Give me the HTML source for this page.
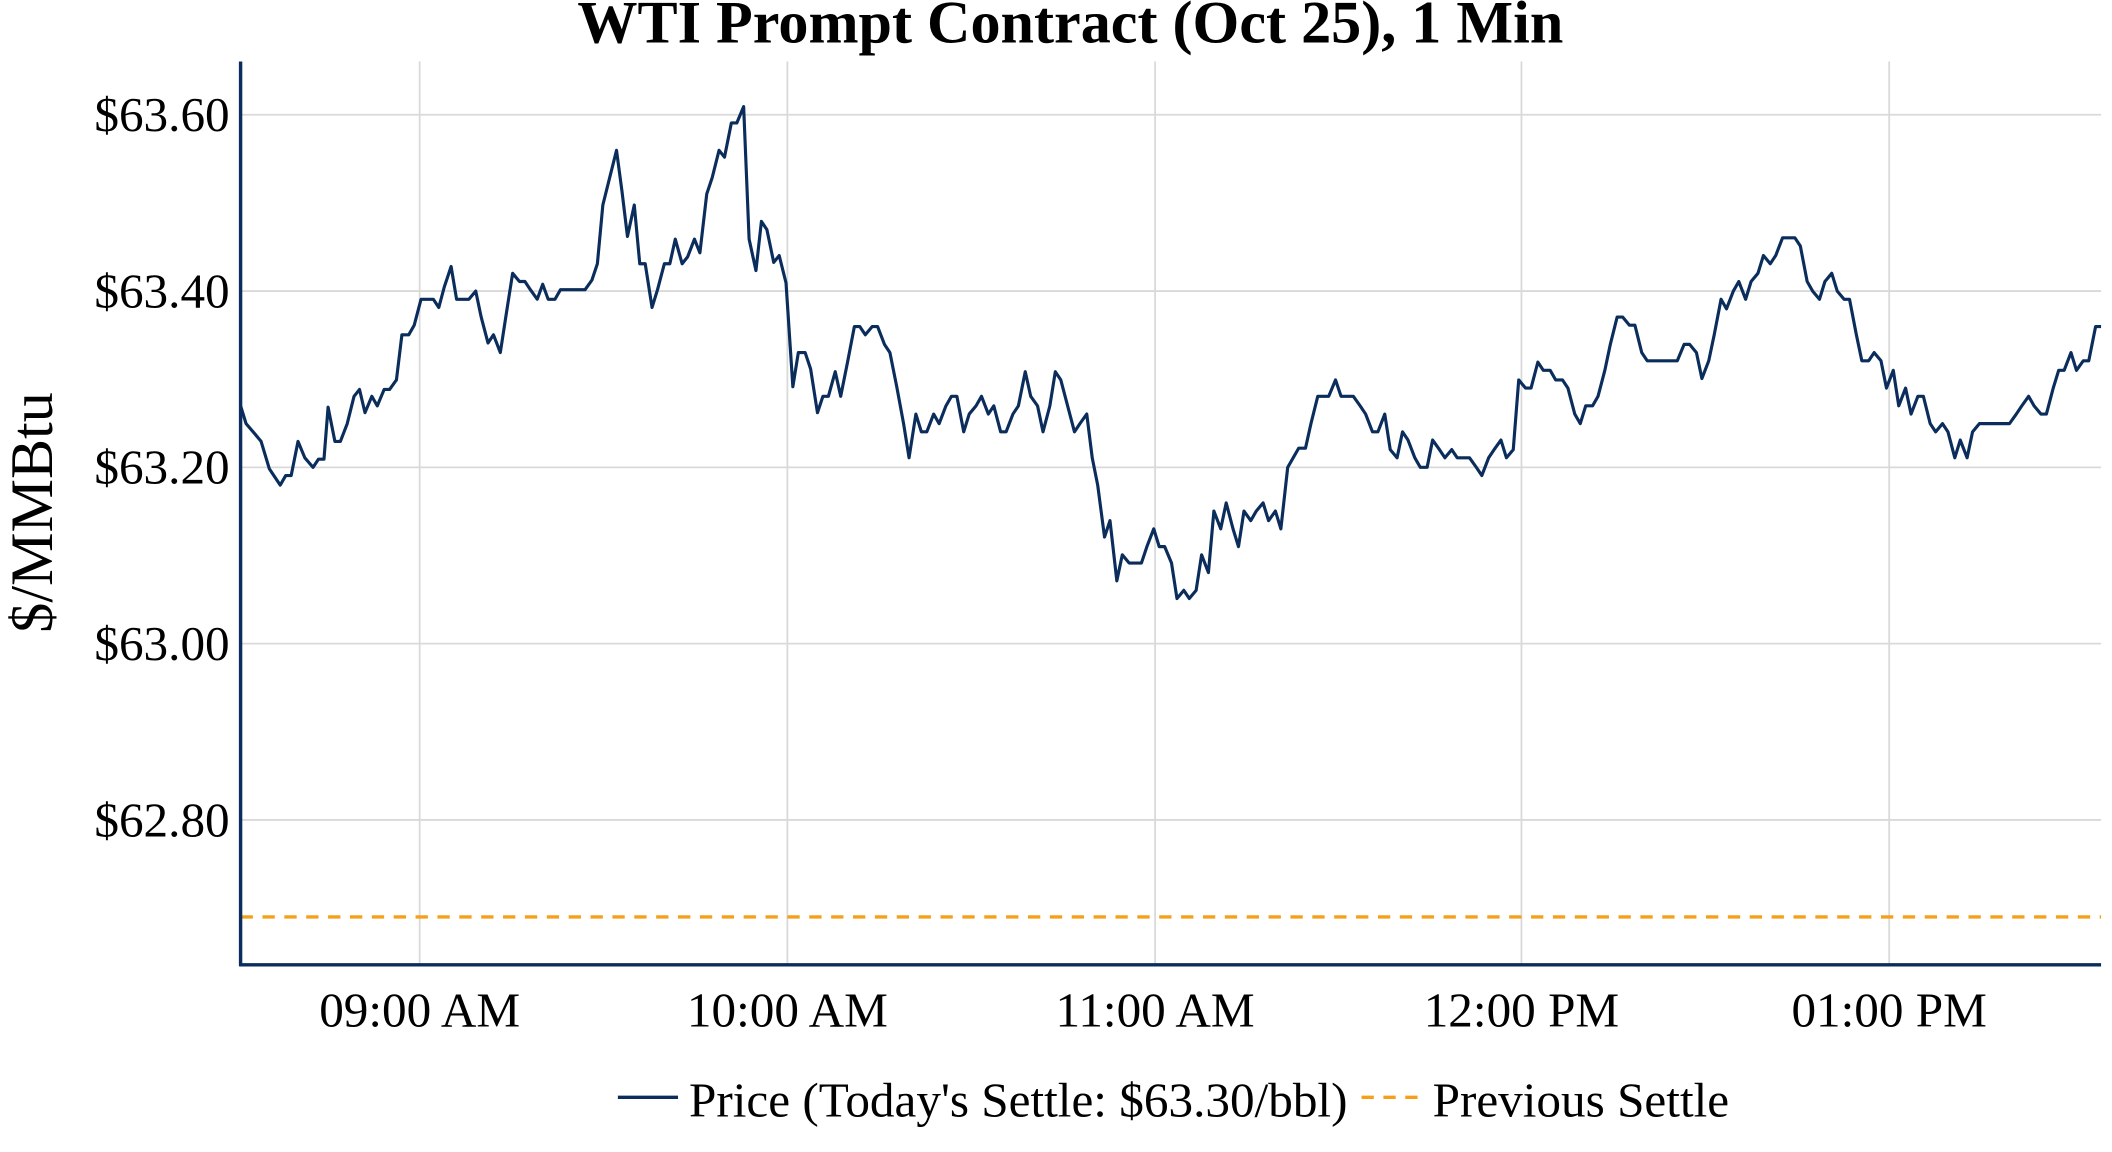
<!DOCTYPE html>
<html><head><meta charset="utf-8"><style>
html,body{margin:0;padding:0;background:#fff;}
svg{display:block;}
text{font-family:"Liberation Serif",serif;fill:#000;}
</style></head><body>
<svg width="2112" height="1152" viewBox="0 0 1545 843" preserveAspectRatio="none" xmlns="http://www.w3.org/2000/svg">
<rect width="1545" height="843" fill="#fff"/>
<g stroke="#d9d9d9" stroke-width="1.3">
<line x1="176" x2="1537" y1="84" y2="84"/>
<line x1="176" x2="1537" y1="213" y2="213"/>
<line x1="176" x2="1537" y1="342" y2="342"/>
<line x1="176" x2="1537" y1="471" y2="471"/>
<line x1="176" x2="1537" y1="600" y2="600"/>
<line x1="307" x2="307" y1="45" y2="706"/>
<line x1="576" x2="576" y1="45" y2="706"/>
<line x1="845" x2="845" y1="45" y2="706"/>
<line x1="1113" x2="1113" y1="45" y2="706"/>
<line x1="1382" x2="1382" y1="45" y2="706"/>
</g>
<line x1="176" x2="1537" y1="671" y2="671" stroke="#f5a01a" stroke-width="2.5" stroke-dasharray="9,7"/>
<polyline fill="none" stroke="#0b2d5c" stroke-width="2.3" stroke-linejoin="round" points="176,297 180,310 186,317 191,323 197,343 205,355 209,348 213,348 218,323 223,335 229,342 233,336 237,336 240,298 245,323 249,323 254,310 259,290 263,285 267,302 272,290 276,297 281,285 285,285 290,278 294,245 299,245 303,238 308,219 312,219 317,219 321,225 325,210 330,195 334,219 339,219 343,219 348,213 352,232 357,251 361,245 366,258 370,232 375,200 380,206 384,206 388,212 393,219 397,208 401,219 406,219 410,212 415,212 419,212 424,212 428,212 433,205 437,193 441,150 446,130 451,110 455,140 459,173 464,150 468,193 472,193 477,225 481,212 486,193 490,193 494,175 499,193 503,188 508,175 512,185 517,142 521,130 526,110 530,115 535,90 539,90 544,78 548,175 553,198 557,162 561,168 566,192 570,187 575,207 580,283 584,258 589,258 593,270 598,302 602,290 606,290 611,272 615,290 620,265 625,239 629,239 633,245 638,239 642,239 647,252 651,258 656,283 661,310 665,335 670,303 674,316 678,316 683,303 687,310 692,297 696,290 700,290 705,316 709,303 714,297 718,290 723,303 727,297 732,316 736,316 741,303 745,297 750,272 754,290 759,297 763,316 768,297 772,272 776,278 781,297 786,316 790,310 795,303 799,335 803,355 808,393 812,381 817,425 821,406 826,412 830,412 835,412 839,400 844,387 848,400 852,400 857,412 861,438 866,432 870,438 875,432 879,406 884,419 888,374 893,387 897,368 902,387 906,400 910,374 915,381 919,374 924,368 928,381 933,374 937,387 942,342 946,335 950,328 955,328 959,310 964,290 968,290 972,290 977,278 981,290 986,290 990,290 995,297 999,303 1004,316 1008,316 1013,303 1017,329 1022,335 1026,316 1030,322 1035,335 1039,342 1044,342 1048,322 1053,329 1057,335 1062,329 1066,335 1071,335 1075,335 1080,342 1084,348 1089,335 1093,329 1098,322 1102,335 1107,329 1111,278 1116,284 1120,284 1125,265 1129,271 1134,271 1138,278 1143,278 1147,284 1152,303 1156,310 1160,297 1165,297 1169,290 1174,271 1178,252 1183,232 1187,232 1192,238 1196,238 1201,258 1205,264 1209,264 1214,264 1218,264 1223,264 1227,264 1232,252 1236,252 1241,258 1245,277 1250,264 1254,245 1259,219 1263,226 1268,213 1272,206 1277,219 1281,206 1286,200 1290,187 1295,193 1299,187 1304,174 1308,174 1313,174 1317,180 1322,206 1326,213 1331,219 1335,206 1340,200 1344,213 1349,219 1353,219 1358,245 1362,264 1367,264 1371,258 1376,264 1380,284 1385,271 1389,297 1394,284 1398,303 1403,290 1407,290 1412,310 1416,316 1421,310 1425,316 1430,335 1434,322 1439,335 1443,316 1448,310 1452,310 1457,310 1461,310 1466,310 1470,310 1475,303 1479,297 1484,290 1488,297 1493,303 1497,303 1502,284 1506,271 1510,271 1515,258 1519,271 1524,264 1528,264 1533,239 1537,239"/>
<line x1="176" x2="176" y1="45" y2="707" stroke="#0b2d5c" stroke-width="2.5"/>
<line x1="175" x2="1537" y1="706" y2="706" stroke="#0b2d5c" stroke-width="2.5"/>
<g font-size="36" text-anchor="end">
<text x="168" y="96">$63.60</text>
<text x="168" y="225">$63.40</text>
<text x="168" y="354">$63.20</text>
<text x="168" y="483">$63.00</text>
<text x="168" y="612">$62.80</text>
</g>
<g font-size="36" text-anchor="middle">
<text x="307" y="751">09:00 AM</text>
<text x="576" y="751">10:00 AM</text>
<text x="845" y="751">11:00 AM</text>
<text x="1113" y="751">12:00 PM</text>
<text x="1382" y="751">01:00 PM</text>
</g>
<text x="783" y="31" font-size="44" font-weight="bold" text-anchor="middle">WTI Prompt Contract (Oct 25), 1 Min</text>
<text transform="translate(38,375) rotate(-90)" font-size="44" text-anchor="middle">$/MMBtu</text>
<line x1="452" x2="496" y1="803" y2="803" stroke="#0b2d5c" stroke-width="2.5"/>
<text x="504" y="817" font-size="36">Price (Today's Settle: $63.30/bbl)</text>
<line x1="996" x2="1040" y1="803" y2="803" stroke="#f5a01a" stroke-width="2.5" stroke-dasharray="9,7"/>
<text x="1048" y="817" font-size="36">Previous Settle</text>
</svg>
</body></html>
